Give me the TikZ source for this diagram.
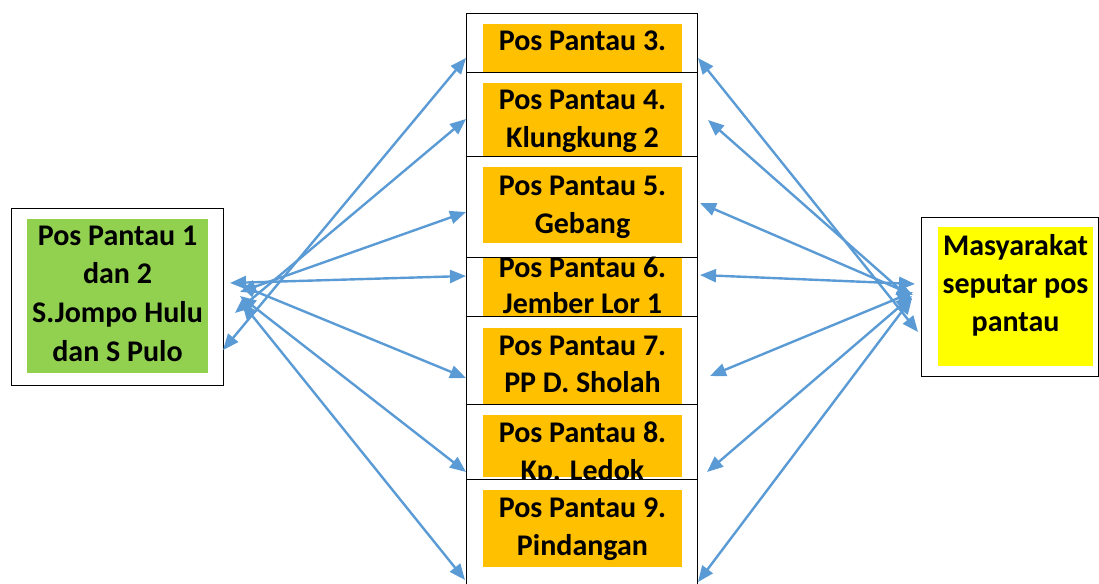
\documentclass[tikz,border=0pt]{standalone}
\usepackage{fontspec}
\setmainfont{Carlito}
\usetikzlibrary{arrows.meta}
\definecolor{arr}{HTML}{5B9BD5}
\definecolor{org}{HTML}{FFC000}
\definecolor{grn}{HTML}{92D050}
\definecolor{ylw}{HTML}{FFFF00}
\begin{document}
\begin{tikzpicture}[x=1pt,y=-1pt,
  wbox/.style={draw=black, line width=1.4pt, fill=white, inner sep=0pt, anchor=north west},
  fbox/.style={draw=none, inner sep=0pt, anchor=north west},
  lbl/.style={font=\fontsize{30}{36}\selectfont\bfseries, anchor=base, inner sep=0pt},
  link/.style={draw=arr, line width=2.4pt, {Triangle[length=16pt,width=13pt]}-{Triangle[length=16pt,width=13pt]}}]
\useasboundingbox (0,0) rectangle (1099,583);
\clip (0,0) rectangle (1099,583);

% left box
\node[wbox, minimum width=212pt, minimum height=177pt] (left) at (11,208) {};
\node[fbox, fill=grn, minimum width=181pt, minimum height=154pt] (leftf) at (27,219) {};
\node[lbl] (l1) at (117.5,245) {Pos Pantau 1};
\node[lbl] (l2) at (117.5,283) {dan 2};
\node[lbl] (l3) at (117.5,322) {S.Jompo Hulu};
\node[lbl] (l4) at (117.5,361) {dan S Pulo};

% right box
\node[wbox, minimum width=177pt, minimum height=159pt] (right) at (921,217) {};
\node[fbox, fill=ylw, minimum width=155pt, minimum height=139pt] (rightf) at (938,227) {};
\node[lbl] (r1) at (1015.5,255) {Masyarakat};
\node[lbl] (r2) at (1015.5,293) {seputar pos};
\node[lbl] (r3) at (1015.5,331) {pantau};

% middle boxes (stacked, each covers the one before)
\node[wbox, minimum width=231pt, minimum height=70pt] (b3) at (466,13) {};
\node[fbox, fill=org, minimum width=199pt, minimum height=60pt] (b3f) at (483,24) {};
\node[lbl] (t3) at (582.5,51) {Pos Pantau 3.};

\node[wbox, minimum width=231pt, minimum height=84pt] (b4) at (466,72) {};
\node[fbox, fill=org, minimum width=199pt, minimum height=73pt] (b4f) at (483,83) {};
\node[lbl] (t4a) at (582.5,110) {Pos Pantau 4.};
\node[lbl] (t4b) at (582.5,147) {Klungkung 2};

\node[wbox, minimum width=231pt, minimum height=101pt] (b5) at (466,156) {};
\node[fbox, fill=org, minimum width=199pt, minimum height=76pt] (b5f) at (483,167) {};
\node[lbl] (t5a) at (582.5,195) {Pos Pantau 5.};
\node[lbl] (t5b) at (582.5,233) {Gebang};

\node[wbox, minimum width=231pt, minimum height=59pt] (b6) at (466,257) {};
\node[fbox, fill=org, minimum width=199pt, minimum height=58pt] (b6f) at (483,258) {};
\node[lbl] (t6a) at (582.5,277) {Pos Pantau 6.};
\node[lbl] (t6b) at (582.5,313) {Jember Lor 1};

\node[wbox, minimum width=231pt, minimum height=88pt] (b7) at (466,316) {};
\node[fbox, fill=org, minimum width=199pt, minimum height=76pt] (b7f) at (483,328) {};
\node[lbl] (t7a) at (582.5,355) {Pos Pantau 7.};
\node[lbl] (t7b) at (582.5,392) {PP D. Sholah};

\node[wbox, minimum width=231pt, minimum height=75pt] (b8) at (466,404) {};
\node[fbox, fill=org, minimum width=199pt, minimum height=62pt] (b8f) at (483,415) {};
\node[lbl] (t8a) at (582.5,442) {Pos Pantau 8.};
\node[lbl] (t8b) at (582.5,480) {Kp. Ledok};

\node[wbox, minimum width=231pt, minimum height=130pt] (b9) at (466,479) {};
\node[fbox, fill=org, minimum width=199pt, minimum height=77pt] (b9f) at (483,490) {};
\node[lbl] (t9a) at (582.5,517) {Pos Pantau 9.};
\node[lbl] (t9b) at (582.5,555) {Pindangan};

% connector end points
\coordinate (L3a) at (466,58);  \coordinate (L3b) at (223,350);
\coordinate (L4a) at (466,119); \coordinate (L4b) at (235,313);
\coordinate (L5a) at (466,212); \coordinate (L5b) at (240,292);
\coordinate (L6a) at (466,276); \coordinate (L6b) at (230,283);
\coordinate (L7a) at (466,378); \coordinate (L7b) at (240,285);
\coordinate (L8a) at (466,472); \coordinate (L8b) at (240,296);
\coordinate (L9a) at (465,580); \coordinate (L9b) at (242,303);

\coordinate (R3a) at (698,58);  \coordinate (R3b) at (918,332);
\coordinate (R4a) at (708,120); \coordinate (R4b) at (912,300);
\coordinate (R5a) at (700,203); \coordinate (R5b) at (913,295);
\coordinate (R6a) at (700,275); \coordinate (R6b) at (915,284);
\coordinate (R7a) at (710,376); \coordinate (R7b) at (913,292);
\coordinate (R8a) at (707,472); \coordinate (R8b) at (912,296);
\coordinate (R9a) at (698,582); \coordinate (R9b) at (912,298);

\foreach \i in {3,...,9} {
  \draw[link] (L\i b) -- (L\i a);
  \draw[link] (R\i a) -- (R\i b);
}
\end{tikzpicture}
\end{document}
